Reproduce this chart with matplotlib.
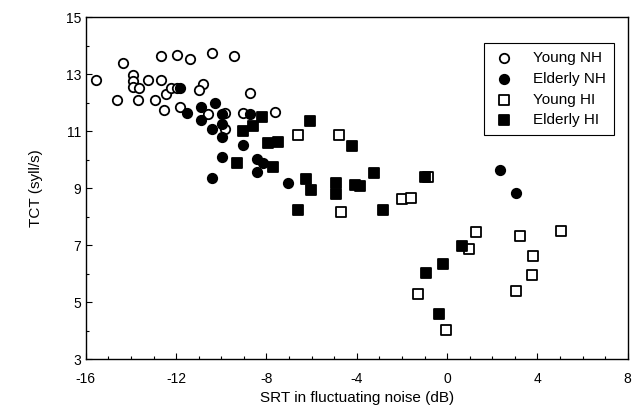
import matplotlib
matplotlib.use("Agg")
import matplotlib.pyplot as plt
from matplotlib.ticker import MultipleLocator

plt.rcParams['font.family'] = ['Liberation Sans', 'DejaVu Sans']

# Young NH (open circles)
young_nh_x = [-15.53, -14.37, -14.64, -13.93, -13.93, -13.93, -13.64, -13.68, -13.24, -12.68,
              -12.68, -12.94, -11.98, -12.46, -12.25, -11.98, -12.53, -11.84, -11.39, -10.43,
              -9.45, -10.83, -10.98, -8.74, -10.58, -9.85, -9.03, -7.63, -9.85]
young_nh_y = [12.79, 13.38, 12.11, 12.96, 12.77, 12.55, 12.50, 12.09, 12.79, 13.63,
              12.79, 12.09, 13.67, 12.29, 12.52, 12.52, 11.74, 11.85, 13.52, 13.76,
              13.63, 12.67, 12.46, 12.34, 11.60, 11.62, 11.62, 11.68, 11.09]

# Elderly NH (filled circles)
elderly_nh_x = [-11.84, -10.29, -10.88, -11.54, -9.99, -8.74, -10.88, -10.43, -9.99, -9.99,
                -9.03, -9.99, -8.44, -8.15, -8.41, -10.43, -7.04, 2.36, 3.04]
elderly_nh_y = [12.50, 11.99, 11.85, 11.62, 11.60, 11.60, 11.39, 11.09, 11.25, 10.78,
                10.51, 10.10, 10.01, 9.87, 9.57, 9.34, 9.19, 9.63, 8.84]

# Young HI (open squares)
young_hi_x = [-6.60, -4.78, -4.68, -0.84, -1.99, -1.61, 1.27, 3.22, 5.06, 0.97,
              3.81, 3.78, 3.07, -1.29, -0.03]
young_hi_y = [10.86, 10.88, 8.17, 9.40, 8.62, 8.67, 7.45, 7.32, 7.50, 6.85,
              6.61, 5.95, 5.40, 5.28, 4.02]

# Elderly HI (filled squares)
elderly_hi_x = [-8.18, -8.59, -9.03, -7.93, -7.48, -9.30, -7.73, -6.08, -4.23, -6.23,
                -6.05, -4.94, -4.94, -4.09, -3.84, -3.25, -6.60, -2.84, -0.99, 0.68,
                -0.18, -0.94, -0.37]
elderly_hi_y = [11.50, 11.18, 11.01, 10.57, 10.62, 9.87, 9.73, 11.35, 10.47, 9.31,
                8.95, 9.19, 8.81, 9.11, 9.07, 9.52, 8.23, 8.25, 9.38, 6.96,
                6.33, 6.03, 4.58]

x_ticks = [-16, -12, -8, -4, 0, 4, 8]
y_ticks = [3, 5, 7, 9, 11, 13, 15]

fig = plt.figure(figsize=(6.36, 4.09), dpi=100)
ax = fig.add_axes([0.135, 0.122, 0.852, 0.836])

ms = 46
lw = 1.3
ax.scatter(young_hi_x, young_hi_y, marker='s', s=ms, facecolors='white', edgecolors='black',
           linewidths=lw, label='Young HI', zorder=3)
ax.scatter(elderly_hi_x, elderly_hi_y, marker='s', s=ms, facecolors='black', edgecolors='black',
           linewidths=lw, label='Elderly HI', zorder=3)
ax.scatter(young_nh_x, young_nh_y, marker='o', s=ms, facecolors='white', edgecolors='black',
           linewidths=lw, label='Young NH', zorder=3)
ax.scatter(elderly_nh_x, elderly_nh_y, marker='o', s=ms, facecolors='black', edgecolors='black',
           linewidths=lw, label='Elderly NH', zorder=3)

ax.set_xlim(-16, 8)
ax.set_ylim(3, 15)
ax.set_xticks(x_ticks)
ax.set_yticks(y_ticks)
ax.set_xticklabels([str(t) for t in x_ticks])
ax.set_yticklabels([str(t) for t in y_ticks])
ax.xaxis.set_minor_locator(MultipleLocator(1))
ax.yaxis.set_minor_locator(MultipleLocator(1))
ax.tick_params(which='both', direction='in', top=False, right=False, labelsize=10)
ax.tick_params(axis='x', which='major', pad=9)
ax.tick_params(which='major', length=4, width=0.8)
ax.tick_params(which='minor', length=2.5, width=0.8)
for sp in ax.spines.values():
    sp.set_linewidth(1.0)
    sp.set_color('black')

ax.set_xlabel('SRT in fluctuating noise (dB)', fontsize=11, labelpad=4)
ax.set_ylabel('TCT (syll/s)', fontsize=11, labelpad=16)

handles, labels = ax.get_legend_handles_labels()
order = [labels.index(n) for n in ['Young NH', 'Elderly NH', 'Young HI', 'Elderly HI']]
leg = ax.legend([handles[i] for i in order], [labels[i] for i in order],
                loc='upper right', bbox_to_anchor=(0.974, 0.924), borderaxespad=0,
                fontsize=11, frameon=True, fancybox=False, edgecolor='black', framealpha=1,
                handletextpad=1.1, borderpad=0.5, labelspacing=0.45, handlelength=1.6)
leg.get_frame().set_linewidth(0.8)

fig.savefig('out.png', dpi=100)
